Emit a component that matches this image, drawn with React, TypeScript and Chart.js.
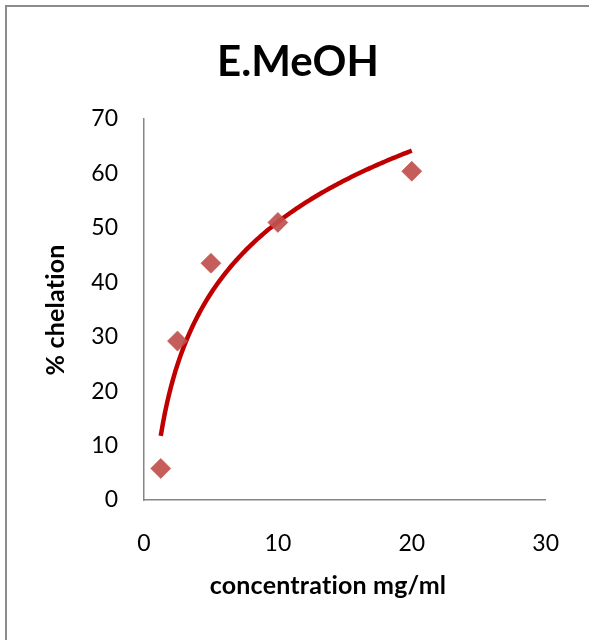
import React, { useEffect, useRef } from "react";
import { Chart, registerables } from "chart.js";

Chart.register(...registerables);

const chartTitle = "E.MeOH";
const xTitle = "concentration mg/ml";
const yTitle = "% chelation";
const concentrations = [1.25, 2.5, 5, 10, 20];
const chelation = [5.8, 29.2, 43.5, 51.0, 60.4];
const xTicks = [0, 10, 20, 30];
const yTicks = [0, 10, 20, 30, 40, 50, 60, 70];

// logarithmic least-squares trendline (as Excel draws it) computed from the data
function logTrend(xs: number[], ys: number[]) {
  const lx = xs.map((x) => Math.log(x));
  const n = xs.length;
  const mx = lx.reduce((a, b) => a + b, 0) / n;
  const my = ys.reduce((a, b) => a + b, 0) / n;
  let sxy = 0;
  let sxx = 0;
  for (let i = 0; i < n; i++) {
    sxy += (lx[i] - mx) * (ys[i] - my);
    sxx += (lx[i] - mx) * (lx[i] - mx);
  }
  const a = sxy / sxx;
  const b = my - a * mx;
  const x0 = Math.min(...xs);
  const x1 = Math.max(...xs);
  const pts: { x: number; y: number }[] = [];
  const steps = 120;
  for (let i = 0; i <= steps; i++) {
    const x = x0 + ((x1 - x0) * i) / steps;
    pts.push({ x, y: a * Math.log(x) + b });
  }
  return pts;
}

const FONT = "Lato";

const decorPlugin = {
  id: "decor",
  afterDraw(chart: any) {
    const ctx = chart.ctx;
    ctx.save();
    // outer frame (left and top edges visible)
    ctx.strokeStyle = "#8c8c8c";
    ctx.lineWidth = 2;
    ctx.beginPath();
    ctx.moveTo(6, 700);
    ctx.lineTo(6, 6);
    ctx.lineTo(700, 6);
    ctx.stroke();
    ctx.fillStyle = "#000";
    ctx.textAlign = "center";
    ctx.textBaseline = "middle";
    ctx.font = `bold 42px ${FONT}`;
    ctx.fillText(chartTitle, 298, 62);
    ctx.font = `bold 25px ${FONT}`;
    try {
      (ctx as any).letterSpacing = "0.2px";
    } catch (e) {}
    ctx.fillText(xTitle, 328, 586);
    ctx.translate(56, 310);
    ctx.rotate(-Math.PI / 2);
    ctx.fillText(yTitle, 0, 0);
    ctx.restore();
  },
};

export default function App() {
  const ref = useRef<HTMLCanvasElement | null>(null);
  useEffect(() => {
    if (!ref.current) return;
    const chart = new Chart(ref.current, {
      type: "scatter",
      data: {
        datasets: [
          {
            label: "data",
            data: concentrations.map((x, i) => ({ x, y: chelation[i] })),
            pointStyle: "rectRot",
            pointRadius: 10,
            pointHoverRadius: 10,
            backgroundColor: "rgba(192,80,77,0.92)",
            borderColor: "rgba(192,80,77,0.6)",
            borderWidth: 1,
            order: 0,
          },
          {
            label: "trend",
            data: logTrend(concentrations, chelation),
            showLine: true,
            pointRadius: 0,
            borderColor: "#C00000",
            borderWidth: 4.5,
            fill: false,
            order: 1,
          },
        ],
      },
      options: {
        animation: false,
        responsive: false,
        events: [],
        layout: { padding: { top: 119, right: 39, left: 0, bottom: 0 } },
        plugins: {
          legend: { display: false },
          title: { display: false },
          tooltip: { enabled: false },
        },
        scales: {
          x: {
            type: "linear",
            min: 0,
            max: 30,
            afterBuildTicks: (s: any) => {
              s.ticks = xTicks.map((v) => ({ value: v }));
            },
            afterFit: (s: any) => {
              s.height = 140;
            },
            grid: { display: false, drawTicks: false },
            border: { display: true, color: "#868686", width: 1.5 },
            ticks: {
              color: "#000",
              font: { family: FONT, size: 23 },
              padding: 30,
              maxRotation: 0,
            },
          },
          y: {
            type: "linear",
            min: 0,
            max: 70,
            afterBuildTicks: (s: any) => {
              s.ticks = yTicks.map((v) => ({ value: v }));
            },
            afterFit: (s: any) => {
              s.width = 144;
            },
            grid: { display: false, drawTicks: false },
            border: { display: true, color: "#868686", width: 1.5 },
            ticks: {
              color: "#000",
              font: { family: FONT, size: 23 },
              padding: 26,
            },
          },
        },
      },
      plugins: [decorPlugin],
    });
    return () => chart.destroy();
  }, []);
  return (
    <div
      style={{
        position: "fixed",
        left: 0,
        top: 0,
        width: 589,
        height: 640,
        overflow: "hidden",
        background: "#fff",
      }}
    >
      <canvas ref={ref} width={589} height={640} style={{ display: "block" }} />
    </div>
  );
}
